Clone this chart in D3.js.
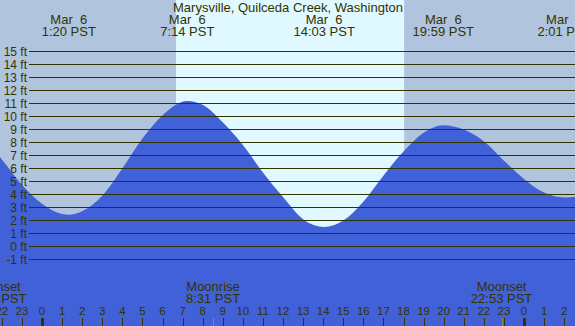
<!DOCTYPE html>
<html>
<head>
<meta charset="utf-8">
<script src="https://cdn.jsdelivr.net/npm/d3@7"></script>
<style>
  html, body { margin: 0; padding: 0; background: #ffffff; }
  svg { display: block; }
</style>
</head>
<body>
<svg id="tide_svg"></svg>
<script>
var width = 575;
var height = 326;
var night_color = "#b0c4de";
var day_color = "#e0f8ff";
var water_color = "#4161d8";
var ink_color = "#333300";
var font = "'Liberation Sans', Arial, sans-serif";
var label_size = 13;

var title = "Marysville, Quilceda Creek, Washington";

// tide height (ft), hours from Mar 6 00:00 PST
var tide_hours   = [-3, -2, -1, 0, 1, 1.333, 2, 3, 4, 5, 6, 7.233, 8, 9, 10, 11, 12, 13, 14.05, 15, 16, 17, 18, 19, 19.983, 21, 22, 23, 24, 25, 26.017, 27];
var tide_heights = [8.4, 6.7, 4.75, 3.28, 2.5, 2.45, 2.72, 3.9, 6.0, 8.3, 10.1, 11.2, 10.9, 9.55, 7.8, 5.7, 3.8, 2.1, 1.5, 2.0, 3.45, 5.45, 7.3, 8.75, 9.33, 9.0, 8.1, 6.6, 5.2, 4.15, 3.77, 3.95];

// high / low tide labels along the top
var extreme_hours = [1.333, 7.233, 14.05, 19.983, 26.017];
var extreme_dates = ["Mar  6", "Mar  6", "Mar  6", "Mar  6", "Mar  7"];
var extreme_times = ["1:20 PST", "7:14 PST", "14:03 PST", "19:59 PST", "2:01 PST"];

// sun: daylight band
var sunrise_hour = 6.67;
var sunset_hour = 18.03;

// moon events along the bottom
var moon_hours = [-2.3, 8.517, 22.883];
var moon_names = ["Moonset", "Moonrise", "Moonset"];
var moon_times = ["21:42 PST", "8:31 PST", "22:53 PST"];

var feet_ticks = d3.range(-1, 16);
var hour_ticks = d3.range(-2, 27);

var x = d3.scaleLinear().domain([0, 24]).range([42, 524]);
var y = d3.scaleLinear().domain([-1, 15]).range([259.5, 51.5]);

var svg = d3.select("#tide_svg")
    .attr("width", width)
    .attr("height", height)
    .attr("font-family", font);

// night / day bands
svg.append("rect").attr("x", 0).attr("y", 0).attr("width", width).attr("height", height).attr("fill", night_color);
svg.append("rect")
    .attr("x", x(sunrise_hour)).attr("y", 0)
    .attr("width", x(sunset_hour) - x(sunrise_hour)).attr("height", height)
    .attr("fill", day_color);

// water
var area = d3.area()
    .curve(d3.curveMonotoneX)
    .x((d, i) => x(tide_hours[i]))
    .y0(height)
    .y1((d) => y(d));

svg.append("path")
    .datum(tide_heights)
    .attr("d", area)
    .attr("fill", water_color);

// grid lines and feet labels
svg.selectAll(".grid")
    .data(feet_ticks)
    .enter()
    .append("line")
    .attr("class", "grid")
    .attr("x1", 29).attr("x2", width)
    .attr("y1", (d) => y(d)).attr("y2", (d) => y(d))
    .attr("stroke", ink_color)
    .attr("stroke-width", 1);

svg.selectAll(".ft_text")
    .data(feet_ticks)
    .enter()
    .append("text")
    .attr("class", "ft_text")
    .attr("x", 27)
    .attr("y", (d) => y(d) + 4)
    .attr("text-anchor", "end")
    .attr("font-size", 12)
    .attr("fill", ink_color)
    .text((d) => d + " ft");

// title
svg.append("text")
    .attr("x", 288).attr("y", 12)
    .attr("text-anchor", "middle")
    .attr("font-size", label_size)
    .attr("fill", ink_color)
    .text(title);

// tide extreme labels
var ext = svg.selectAll(".ext")
    .data(extreme_hours)
    .enter()
    .append("g")
    .attr("class", "ext");

ext.append("text")
    .attr("x", (d) => x(d)).attr("y", 24)
    .attr("text-anchor", "middle")
    .attr("font-size", label_size)
    .attr("fill", ink_color)
    .attr("xml:space", "preserve")
    .style("white-space", "pre")
    .text((d, i) => extreme_dates[i]);

ext.append("text")
    .attr("x", (d) => x(d)).attr("y", 36)
    .attr("text-anchor", "middle")
    .attr("font-size", label_size)
    .attr("fill", ink_color)
    .text((d, i) => extreme_times[i]);

// moon labels
var moon = svg.selectAll(".moon")
    .data(moon_hours)
    .enter()
    .append("g")
    .attr("class", "moon");

moon.append("text")
    .attr("x", (d) => x(d)).attr("y", 291)
    .attr("text-anchor", "middle")
    .attr("font-size", label_size)
    .attr("fill", ink_color)
    .text((d, i) => moon_names[i]);

moon.append("text")
    .attr("x", (d) => x(d)).attr("y", 303)
    .attr("text-anchor", "middle")
    .attr("font-size", label_size)
    .attr("fill", ink_color)
    .text((d, i) => moon_times[i]);

moon.append("line")
    .attr("x1", (d) => Math.round(x(d)) + 0.5).attr("x2", (d) => Math.round(x(d)) + 0.5)
    .attr("y1", 318).attr("y2", height)
    .attr("stroke", "#8a8a70")
    .attr("stroke-width", 1);

// hour ticks along the bottom
svg.selectAll(".hour_tick")
    .data(hour_ticks)
    .enter()
    .append("line")
    .attr("class", "hour_tick")
    .attr("x1", (d) => Math.round(x(d)) + 0.5).attr("x2", (d) => Math.round(x(d)) + 0.5)
    .attr("y1", 318).attr("y2", height)
    .attr("stroke", ink_color)
    .attr("stroke-width", (d) => ((d % 24 + 24) % 24 == 0) ? 3 : 1);

svg.selectAll(".hour_text")
    .data(hour_ticks)
    .enter()
    .append("text")
    .attr("class", "hour_text")
    .attr("x", (d) => x(d)).attr("y", 315)
    .attr("text-anchor", "middle")
    .attr("font-size", 11.5)
    .attr("fill", ink_color)
    .text((d) => (d % 24 + 24) % 24);
</script>
</body>
</html>
